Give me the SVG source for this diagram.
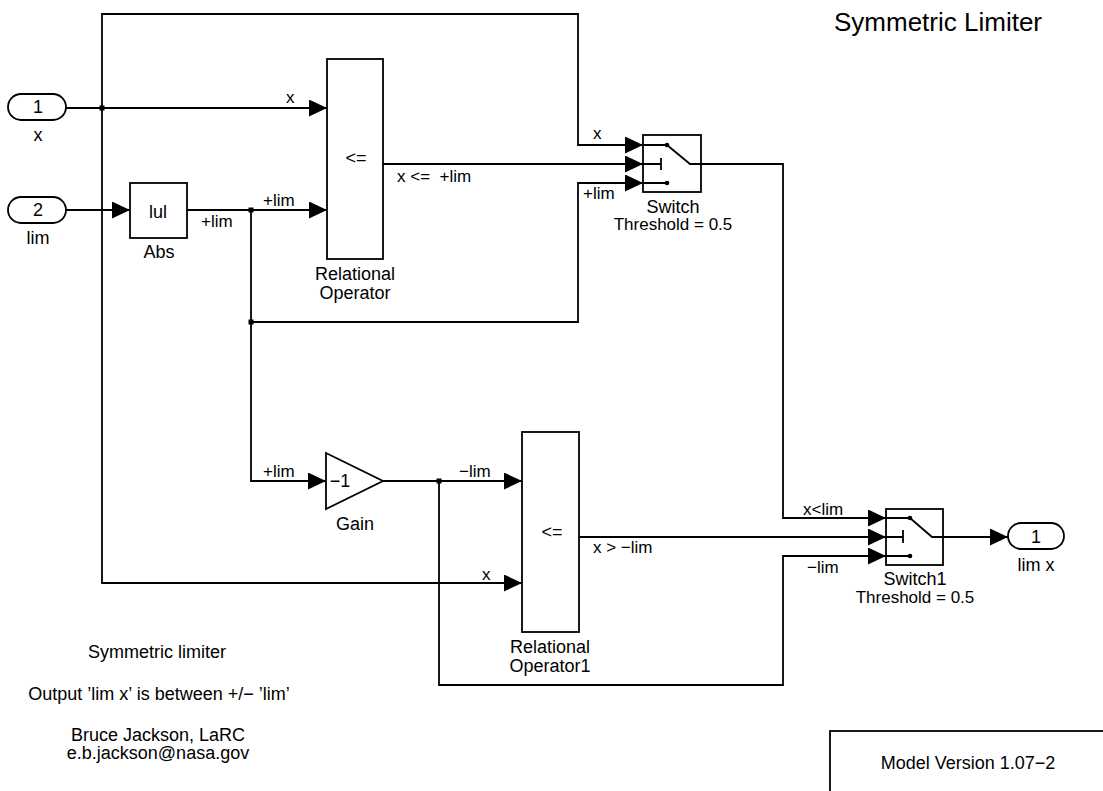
<svg xmlns="http://www.w3.org/2000/svg" width="1103" height="791" viewBox="0 0 1103 791">
<style>
text{font-family:"Liberation Sans",Arial,Helvetica,sans-serif;fill:#000}
.blk{fill:#fff;stroke:#000;stroke-width:1.8}
.ln{fill:none;stroke:#000;stroke-width:1.8}
.sig{font-size:17px}
.nm{font-size:18px;text-anchor:middle}
.th{font-size:17px;text-anchor:middle}
.c{text-anchor:middle}
</style>
<defs>
<marker id="ar" markerUnits="userSpaceOnUse" markerWidth="18" markerHeight="18" refX="18" refY="8.5" orient="auto">
<path d="M0,0 L18,8.5 L0,17 z" fill="#000"/>
</marker>
</defs>

<g id="connectors">
<path class="ln" d="M66,108 H327" marker-end="url(#ar)"/>
<path class="ln" d="M102,108 V14 H578 V145 H643" marker-end="url(#ar)"/>
<path class="ln" d="M102,108 V583 H522" marker-end="url(#ar)"/>
<path class="ln" d="M66,210 H130" marker-end="url(#ar)"/>
<path class="ln" d="M187,210 H327" marker-end="url(#ar)"/>
<path class="ln" d="M251,210 V481 H326" marker-end="url(#ar)"/>
<path class="ln" d="M251,322 H578 V183 H643" marker-end="url(#ar)"/>
<path class="ln" d="M383,164 H643" marker-end="url(#ar)"/>
<path class="ln" d="M701,164 H783 V518 H886" marker-end="url(#ar)"/>
<path class="ln" d="M383,481 H522" marker-end="url(#ar)"/>
<path class="ln" d="M439,481 V685 H783 V556 H886" marker-end="url(#ar)"/>
<path class="ln" d="M579,537 H886" marker-end="url(#ar)"/>
<path class="ln" d="M943,537 H1008" marker-end="url(#ar)"/>
<rect x="99.5" y="105.5" width="5" height="5" fill="#000"/>
<rect x="248.5" y="207.5" width="5" height="5" fill="#000"/>
<rect x="248.5" y="319.5" width="5" height="5" fill="#000"/>
<rect x="436.5" y="478.5" width="5" height="5" fill="#000"/>
<text class="sig" x="286" y="103">x</text>
<text class="sig" x="263" y="206">+lim</text>
<text class="sig" x="201" y="227">+lim</text>
<text class="sig" x="397" y="182">x &lt;=&#160; +lim</text>
<text class="sig" x="593" y="139">x</text>
<text class="sig" x="583" y="199">+lim</text>
<text class="sig" x="263" y="477">+lim</text>
<text class="sig" x="459" y="477">−lim</text>
<text class="sig" x="482" y="580">x</text>
<text class="sig" x="593" y="553">x &gt; −lim</text>
<text class="sig" x="803" y="515">x&lt;lim</text>
<text class="sig" x="807" y="573">−lim</text>
</g>

<g id="in1">
<rect class="blk" x="8" y="94" width="58" height="26" rx="13"/>
<text class="nm" x="38" y="113">1</text>
<text class="nm" x="38" y="141">x</text>
</g>

<g id="in2">
<rect class="blk" x="8" y="197" width="58" height="26" rx="13"/>
<text class="nm" x="38" y="216">2</text>
<text class="nm" x="38" y="244">lim</text>
</g>

<g id="abs">
<rect class="blk" x="130" y="183" width="57" height="55"/>
<text class="nm" x="158" y="218">lul</text>
<text class="nm" x="159" y="258">Abs</text>
</g>

<g id="relop">
<rect class="blk" x="327" y="59" width="56" height="200"/>
<text class="nm" x="356" y="164">&lt;=</text>
<text class="nm" x="355" y="280">Relational</text>
<text class="nm" x="355" y="299">Operator</text>
</g>

<g id="switch">
<rect class="blk" x="643" y="135" width="58" height="57"/>
<path class="ln" d="M643,145 H667 M643,183 H667 M643,164 H661 M661,158 V170 M667,145 L690,164 H701"/>
<circle cx="667" cy="145" r="2.3" fill="#000"/>
<circle cx="667" cy="183" r="2.3" fill="#000"/>
<text class="nm" x="673" y="213">Switch</text>
<text class="th" x="673" y="230">Threshold = 0.5</text>
</g>

<g id="gain">
<path class="blk" d="M326,453 L383,481 L326,509 z"/>
<text class="nm" x="340" y="487">−1</text>
<text class="nm" x="355" y="530">Gain</text>
</g>

<g id="relop1">
<rect class="blk" x="522" y="432" width="57" height="200"/>
<text class="nm" x="552" y="538">&lt;=</text>
<text class="nm" x="550" y="653">Relational</text>
<text class="nm" x="550" y="672">Operator1</text>
</g>

<g id="switch1">
<rect class="blk" x="886" y="509" width="57" height="56"/>
<path class="ln" d="M886,518 H910 M886,556 H910 M886,537 H903 M903,530 V543 M910,518 L932,537 H943"/>
<circle cx="910" cy="518" r="2.3" fill="#000"/>
<circle cx="910" cy="556" r="2.3" fill="#000"/>
<text class="nm" x="915" y="585">Switch1</text>
<text class="th" x="915" y="603">Threshold = 0.5</text>
</g>

<g id="out1">
<rect class="blk" x="1008" y="523" width="56" height="26" rx="13"/>
<text class="nm" x="1036" y="543">1</text>
<text class="nm" x="1036" y="571">lim x</text>
</g>

<g id="title">
<text x="938" y="31" font-size="26" class="c">Symmetric Limiter</text>
</g>

<g id="notes">
<text class="nm" x="157" y="658">Symmetric limiter</text>
<text class="nm" x="159" y="700">Output ’lim x’ is between +/− ’lim’</text>
<text class="nm" x="158" y="741">Bruce Jackson, LaRC</text>
<text class="nm" x="158" y="759">e.b.jackson@nasa.gov</text>
</g>

<g id="version">
<rect class="blk" x="830" y="731" width="300" height="100"/>
<text class="nm" x="968" y="769">Model Version 1.07−2</text>
</g>
</svg>
